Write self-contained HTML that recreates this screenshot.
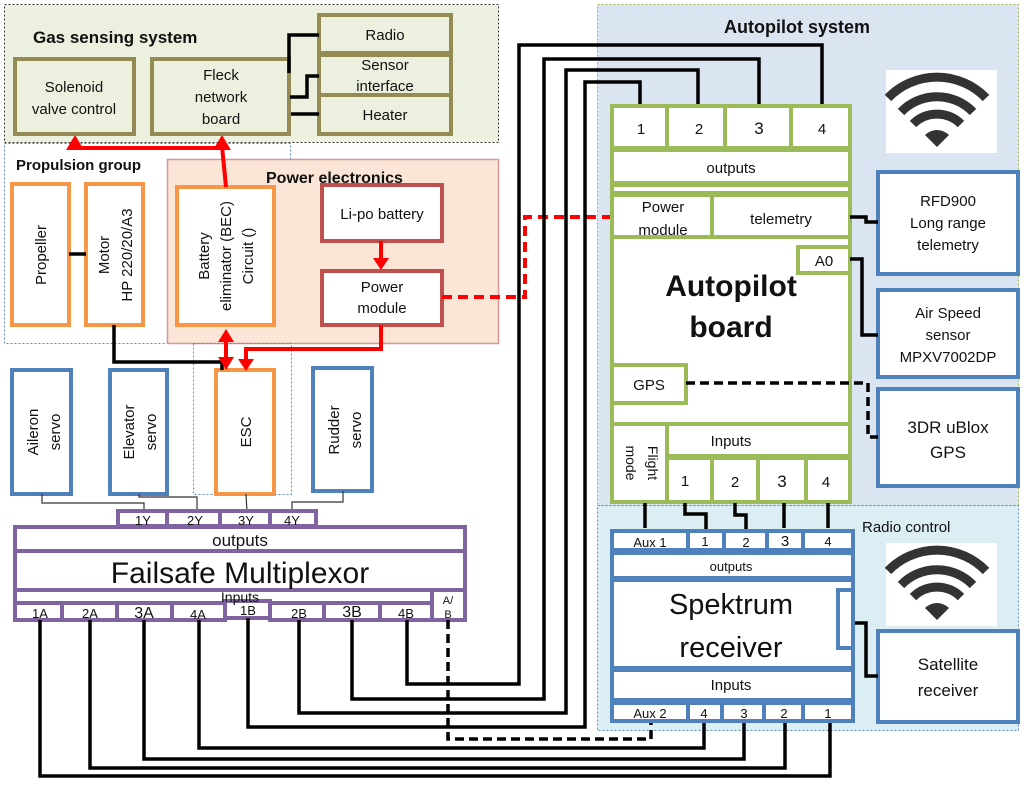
<!DOCTYPE html>
<html><head><meta charset="utf-8"><style>
html,body{margin:0;padding:0;background:#fff;}
svg{display:block;}
text{font-family:"Liberation Sans",sans-serif;fill:#111;}
</style></head><body>
<svg width="1024" height="791" viewBox="0 0 1024 791" xmlns="http://www.w3.org/2000/svg">
<rect x="4.5" y="4.5" width="494" height="138" fill="#ebf1de" stroke="#333" stroke-width="1" stroke-dasharray="2,2"/>
<rect x="4.5" y="143.5" width="286" height="200" fill="none" stroke="#5b8ac9" stroke-width="1" stroke-dasharray="2,2"/>
<rect x="167.5" y="159.5" width="331" height="184" fill="#fbe5d6" stroke="#d99694" stroke-width="1.5"/>
<rect x="193.5" y="343.5" width="98" height="151" fill="none" stroke="#5b8ac9" stroke-width="1" stroke-dasharray="2,2"/>
<rect x="597.5" y="4.5" width="421" height="501" fill="#dbe5f1" stroke="#9bbb59" stroke-width="1" stroke-dasharray="2,2"/>
<rect x="597.5" y="505.5" width="421" height="225" fill="#dbeef3" stroke="#5b8ac9" stroke-width="1" stroke-dasharray="2,2"/>

<text x="33" y="43" font-size="17" font-weight="bold">Gas sensing system</text>
<text x="16" y="170" font-size="15" font-weight="bold">Propulsion group</text>
<text x="797" y="33" font-size="18" font-weight="bold" text-anchor="middle">Autopilot system</text>
<text x="862" y="532" font-size="15">Radio control</text>

<g fill="#ebf1de" stroke="#948a54" stroke-width="4">
<rect x="15" y="59" width="119" height="75"/>
<rect x="152" y="59" width="137" height="75"/>
<rect x="319" y="15" width="132" height="38"/>
<rect x="319" y="55" width="132" height="40"/>
<rect x="319" y="95" width="132" height="39"/>
</g>
<g font-size="15" text-anchor="middle">
<text x="74" y="92">Solenoid</text><text x="74" y="114">valve control</text>
<text x="221" y="80">Fleck</text><text x="221" y="102">network</text><text x="221" y="124">board</text>
<text x="385" y="40">Radio</text>
<text x="385" y="70">Sensor</text><text x="385" y="91">interface</text>
<text x="385" y="120">Heater</text>
</g>
<g fill="none" stroke="#000" stroke-width="3.5">
<polyline points="319,35 289,35 289,73"/>
<polyline points="290,97 307,97 307,76 319,76"/>
<polyline points="291,114 319,114"/>
</g>

<g fill="#fff" stroke="#f79646" stroke-width="4">
<rect x="12" y="184" width="57" height="141"/>
<rect x="86" y="184" width="57" height="141"/>
<rect x="177" y="187" width="97" height="138"/>
<rect x="216" y="370" width="58" height="124"/>
</g>
<g fill="#fff" stroke="#c0504d" stroke-width="4">
<rect x="322" y="185" width="120" height="56"/>
<rect x="322" y="271" width="120" height="54"/>
</g>
<text x="266" y="183" font-size="16" font-weight="bold">Power electronics</text>
<g font-size="15" text-anchor="middle">
<text transform="translate(46,255) rotate(-90)">Propeller</text>
<text transform="translate(109,255) rotate(-90)">Motor</text>
<text transform="translate(132,255) rotate(-90)">HP 220/20/A3</text>
<text transform="translate(209,256) rotate(-90)">Battery</text>
<text transform="translate(231,256) rotate(-90)">eliminator (BEC)</text>
<text transform="translate(253,256) rotate(-90)">Circuit ()</text>
<text transform="translate(251,432) rotate(-90)">ESC</text>
<text x="382" y="219">Li-po battery</text>
<text x="382" y="292">Power</text><text x="382" y="313">module</text>
</g>
<line x1="69" y1="254" x2="86" y2="254" stroke="#000" stroke-width="3.5"/>
<polyline points="114,325 114,362 222,362 222,370" fill="none" stroke="#000" stroke-width="3.5"/>

<g fill="none" stroke="#f00" stroke-width="4">
<polyline points="226,187 222,146"/>
<polyline points="75,142 75,148 222,148"/>
<line x1="381" y1="241" x2="381" y2="265"/>
<polyline points="381,325 381,349 246,349 246,364"/>
<line x1="226" y1="336" x2="226" y2="364"/>
<polyline points="442,297 525,297 525,217 611,217" stroke-dasharray="10,6"/>
</g>
<g fill="#f00">
<polygon points="75,135 66,150 84,150"/>
<polygon points="222,135 213,150 231,150"/>
<polygon points="381,270 373,258 389,258"/>
<polygon points="246,371 238,359 254,359"/>
<polygon points="226,329 218,342 234,342"/>
<polygon points="226,370 218,357 234,357"/>
</g>

<g fill="#fff" stroke="#4f81bd" stroke-width="4">
<rect x="12" y="370" width="59" height="124"/>
<rect x="110" y="370" width="57" height="124"/>
<rect x="313" y="368" width="59" height="123"/>
</g>
<g font-size="15" text-anchor="middle">
<text transform="translate(38,432) rotate(-90)">Aileron</text>
<text transform="translate(60,432) rotate(-90)">servo</text>
<text transform="translate(134,432) rotate(-90)">Elevator</text>
<text transform="translate(156,432) rotate(-90)">servo</text>
<text transform="translate(339,430) rotate(-90)">Rudder</text>
<text transform="translate(361,430) rotate(-90)">servo</text>
</g>
<g fill="none" stroke="#333" stroke-width="1.2">
<polyline points="42,494 42,503 144,503 144,512"/>
<polyline points="139,494 139,497 197,497 197,512"/>
<polyline points="246,494 247,512"/>
<polyline points="343,491 343,502 292,502 292,512"/>
</g>

<g fill="#fff" stroke="#8064a2" stroke-width="4">
<rect x="118" y="511" width="49" height="15"/>
<rect x="167" y="511" width="53" height="15"/>
<rect x="220" y="511" width="50" height="15"/>
<rect x="270" y="511" width="46" height="15"/>
<rect x="15" y="527" width="450" height="24"/>
<rect x="15" y="551" width="450" height="39"/>
<rect x="15" y="590" width="417" height="13"/>
<rect x="432" y="590" width="33" height="30"/>
<rect x="15" y="603" width="47" height="17"/>
<rect x="62" y="603" width="55" height="17"/>
<rect x="117" y="603" width="55" height="17"/>
<rect x="172" y="603" width="53" height="17"/>
<rect x="225" y="601" width="45" height="17"/>
<rect x="270" y="603" width="54" height="17"/>
<rect x="324" y="603" width="56" height="17"/>
<rect x="380" y="603" width="52" height="17"/>
</g>
<g font-size="13" text-anchor="middle">
<text x="143" y="525">1Y</text><text x="195" y="525">2Y</text><text x="246" y="525">3Y</text><text x="292" y="525">4Y</text>
<text x="40" y="618">1A</text><text x="90" y="618">2A</text><text x="144" y="618" font-size="16">3A</text><text x="198" y="619">4A</text>
<text x="248" y="615">1B</text><text x="299" y="618">2B</text><text x="352" y="617" font-size="16">3B</text><text x="406" y="618">4B</text>
<text x="448" y="604" font-size="11">A/</text><text x="448" y="618" font-size="11">B</text>
</g>
<text x="240" y="546" font-size="17" text-anchor="middle">outputs</text>
<text x="240" y="583" font-size="30" text-anchor="middle">Failsafe Multiplexor</text>
<text x="240" y="602" font-size="14" text-anchor="middle">Inputs</text>

<g fill="none" stroke="#000" stroke-width="3.5">
<polyline points="40,620 40,776 830,776 830,722"/>
<polyline points="90,620 90,768 785,768 785,722"/>
<polyline points="144,620 144,759 744,759 744,722"/>
<polyline points="199,620 199,748 704,748 704,722"/>
<polyline points="248,618 248,727 585,727 585,82 640,82 640,104"/>
<polyline points="299,620 299,713 566,713 566,70 698,70 698,104"/>
<polyline points="352,620 352,699 544,699 544,59 759,59 759,104"/>
<polyline points="407,620 407,684 519,684 519,45 822,45 822,104"/>
<polyline points="448,620 448,739 651,739 651,722" stroke-dasharray="9,5"/>
</g>

<g fill="#fff" stroke="#9bbb59" stroke-width="4">
<rect x="612" y="106" width="238" height="396"/>
<rect x="612" y="106" width="55" height="42"/>
<rect x="667" y="106" width="58" height="42"/>
<rect x="725" y="106" width="66" height="42"/>
<rect x="791" y="106" width="59" height="42"/>
<rect x="612" y="150" width="238" height="33"/>
<rect x="612" y="185" width="238" height="8"/>
<rect x="612" y="195" width="100" height="42"/>
<rect x="712" y="195" width="138" height="42"/>
<rect x="798" y="247" width="52" height="26"/>
<rect x="612" y="365" width="74" height="38"/>
<rect x="612" y="424" width="55" height="78"/>
<rect x="667" y="424" width="183" height="32"/>
<rect x="667" y="458" width="45" height="44"/>
<rect x="712" y="458" width="46" height="44"/>
<rect x="758" y="458" width="48" height="44"/>
<rect x="806" y="458" width="44" height="44"/>
</g>
<g font-size="15" text-anchor="middle">
<text x="641" y="134">1</text><text x="699" y="134">2</text><text x="759" y="134" font-size="17">3</text><text x="822" y="134">4</text>
<text x="731" y="173">outputs</text>
<text x="663" y="212">Power</text><text x="663" y="235">module</text>
<text x="781" y="224">telemetry</text>
<text x="824" y="266">A0</text>
<text x="649" y="390">GPS</text>
<text x="731" y="446">Inputs</text>
<text x="685" y="486">1</text><text x="735" y="487">2</text><text x="782" y="487" font-size="17">3</text><text x="826" y="487">4</text>
<text transform="translate(648,463) rotate(90)" font-size="14">Flight</text>
<text transform="translate(626,463) rotate(90)" font-size="14">mode</text>
</g>
<text x="731" y="296" font-size="30" font-weight="bold" text-anchor="middle">Autopilot</text>
<text x="731" y="337" font-size="30" font-weight="bold" text-anchor="middle">board</text>

<g fill="#fff" stroke="#4f81bd" stroke-width="4">
<rect x="878" y="172" width="140" height="102"/>
<rect x="878" y="290" width="140" height="87"/>
<rect x="878" y="389" width="140" height="97"/>
<rect x="878" y="631" width="140" height="91"/>
</g>
<g font-size="15" text-anchor="middle">
<text x="948" y="206">RFD900</text><text x="948" y="228">Long range</text><text x="948" y="250">telemetry</text>
<text x="948" y="318">Air Speed</text><text x="948" y="340">sensor</text><text x="948" y="362">MPXV7002DP</text>
<text x="948" y="433" font-size="17">3DR uBlox</text><text x="948" y="458" font-size="17">GPS</text>
<text x="948" y="670" font-size="17">Satellite</text><text x="948" y="696" font-size="17">receiver</text>
</g>
<g fill="none" stroke="#000" stroke-width="3.5">
<polyline points="850,217 866,217 866,222 878,222"/>
<polyline points="850,259 862,259 862,335 878,335"/>
<polyline points="686,383 868,383 868,437 878,437" stroke-dasharray="9,5"/>
<polyline points="854,623 866,623 866,676 878,676"/>
<line x1="645" y1="503" x2="645" y2="528"/>
<polyline points="685,503 685,514 706,514 706,530"/>
<polyline points="735,503 735,515 746,515 746,530"/>
<line x1="784" y1="503" x2="784" y2="528"/>
<line x1="828" y1="503" x2="828" y2="528"/>
</g>

<g fill="#fff" stroke="#4f81bd" stroke-width="4">
<rect x="612" y="531" width="241" height="190"/>
<rect x="612" y="531" width="76" height="19"/>
<rect x="688" y="531" width="36" height="19"/>
<rect x="724" y="531" width="43" height="19"/>
<rect x="767" y="531" width="36" height="19"/>
<rect x="803" y="531" width="50" height="19"/>
<rect x="612" y="553" width="241" height="25"/>
<rect x="612" y="580" width="241" height="88"/>
<rect x="838" y="590" width="15" height="58"/>
<rect x="612" y="670" width="241" height="30"/>
<rect x="612" y="703" width="76" height="18"/>
<rect x="688" y="703" width="34" height="18"/>
<rect x="722" y="703" width="42" height="18"/>
<rect x="764" y="703" width="39" height="18"/>
<rect x="803" y="703" width="50" height="18"/>
</g>
<g font-size="13" text-anchor="middle">
<text x="650" y="547">Aux 1</text><text x="705" y="546">1</text><text x="746" y="547">2</text><text x="785" y="546" font-size="15">3</text><text x="828" y="546">4</text>
<text x="731" y="571">outputs</text>
<text x="731" y="690" font-size="15">Inputs</text>
<text x="650" y="718">Aux 2</text><text x="704" y="718">4</text><text x="744" y="718">3</text><text x="784" y="718">2</text><text x="828" y="718">1</text>
</g>
<text x="731" y="614" font-size="29" text-anchor="middle">Spektrum</text>
<text x="731" y="657" font-size="29" text-anchor="middle">receiver</text>

<g>
<rect x="886" y="70" width="111" height="83" fill="#fff"/>
<g fill="none" stroke="#333" stroke-width="9">
<path d="M888,98 A68,68 0 0 1 986,98"/>
<path d="M901,112 A50,50 0 0 1 973,112"/>
<path d="M913,124 A34,34 0 0 1 961,124"/>
</g>
<path d="M937,147 L925,135 A17,17 0 0 1 949,135 Z" fill="#333"/>
</g>
<g>
<rect x="886" y="543" width="111" height="83" fill="#fff"/>
<g fill="none" stroke="#333" stroke-width="9">
<path d="M888,571 A68,68 0 0 1 986,571"/>
<path d="M901,585 A50,50 0 0 1 973,585"/>
<path d="M913,597 A34,34 0 0 1 961,597"/>
</g>
<path d="M937,620 L925,608 A17,17 0 0 1 949,608 Z" fill="#333"/>
</g>
</svg>
</body></html>
